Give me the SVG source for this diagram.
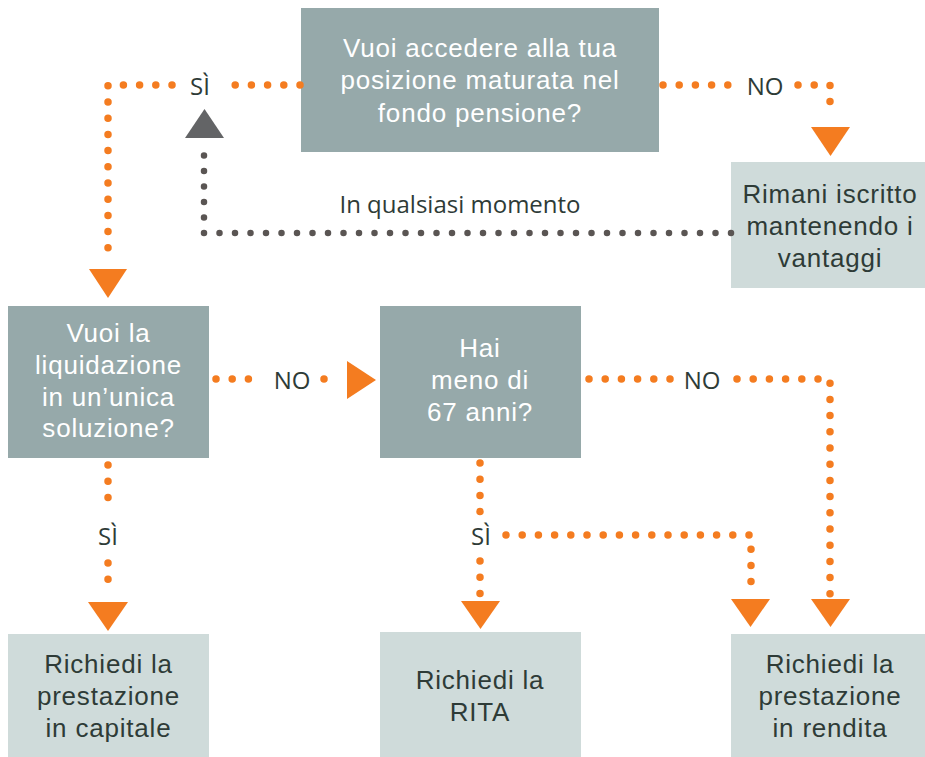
<svg xmlns="http://www.w3.org/2000/svg" width="925" height="757" viewBox="0 0 925 757">
<style>
.dark{fill:#96A9AA}
.light{fill:#CFDBDA}
.t{font-family:"Liberation Sans",Arial,sans-serif;font-size:26px;letter-spacing:0.8px;text-anchor:middle}
.tw{fill:#FFFFFF}
.td{fill:#2E3B37}
.lbl{font-family:"Open Sans","Noto Sans","Liberation Sans",sans-serif;font-size:24px;text-anchor:middle;fill:#2E3B37}
.od{fill:none;stroke:#F47C20;stroke-width:7.5;stroke-linecap:round;stroke-dasharray:0 16.2}
.gd{fill:none;stroke:#5A5553;stroke-width:6.5;stroke-linecap:round;stroke-dasharray:0 15.5}
.oa{fill:#F47C20}
.ga{fill:#636466}
</style>
<rect width="925" height="757" fill="#FFFFFF"/>
<g id="q1">
<rect class="dark" x="301" y="8" width="358" height="144"/>
<text class="t tw" x="480" y="57">Vuoi accedere alla tua</text>
<text class="t tw" x="480" y="89">posizione maturata nel</text>
<text class="t tw" x="480" y="122">fondo pensione?</text>
</g>
<g id="rimani">
<rect class="light" x="731" y="162" width="194" height="126"/>
<text class="t td" x="830" y="203">Rimani iscritto</text>
<text class="t td" x="830" y="235">mantenendo i</text>
<text class="t td" x="830" y="267">vantaggi</text>
</g>
<g id="q2">
<rect class="dark" x="8" y="306" width="201" height="152"/>
<text class="t tw" x="108.5" y="342">Vuoi la</text>
<text class="t tw" x="108.5" y="374">liquidazione</text>
<text class="t tw" x="108.5" y="406">in un’unica</text>
<text class="t tw" x="108.5" y="437">soluzione?</text>
</g>
<g id="q3">
<rect class="dark" x="380" y="306" width="201" height="152"/>
<text class="t tw" x="480" y="357">Hai</text>
<text class="t tw" x="480" y="389">meno di</text>
<text class="t tw" x="480" y="421">67 anni?</text>
</g>
<g id="capitale">
<rect class="light" x="8" y="634" width="201" height="123"/>
<text class="t td" x="108.5" y="673">Richiedi la</text>
<text class="t td" x="108.5" y="705">prestazione</text>
<text class="t td" x="108.5" y="737">in capitale</text>
</g>
<g id="rita">
<rect class="light" x="380" y="632" width="201" height="125"/>
<text class="t td" x="480" y="689">Richiedi la</text>
<text class="t td" x="480" y="721">RITA</text>
</g>
<g id="rendita">
<rect class="light" x="731" y="634" width="194" height="123"/>
<text class="t td" x="830" y="673">Richiedi la</text>
<text class="t td" x="830" y="705">prestazione</text>
<text class="t td" x="830" y="737">in rendita</text>
</g>
<g id="connectors">
<path class="od" d="M300 85 H228 M172 85 H108 V262"/>
<polygon class="oa" points="89,269 127,269 108,298"/>
<text class="lbl" x="200" y="95">SÌ</text>
<path class="od" d="M663 85 H728 M798 85 H830 V117"/>
<polygon class="oa" points="811,127 850,127 830.5,156"/>
<text class="lbl" x="765" y="95">NO</text>
<path class="gd" d="M731 233 H204 V145"/>
<polygon class="ga" points="185,138 224,138 204.5,109"/>
<text class="lbl" x="460" y="213">In qualsiasi momento</text>
<path class="od" d="M216 379 H264 M324 379 H340"/>
<polygon class="oa" points="347,361 347,399 376,380"/>
<text class="lbl" x="292" y="389">NO</text>
<path class="od" d="M589 379 H671 M737 379 H830 V594"/>
<polygon class="oa" points="811,599 850,599 830.5,627"/>
<text class="lbl" x="702" y="389">NO</text>
<path class="od" d="M108 465 V513 M108 563 V595"/>
<polygon class="oa" points="88,602 128,602 108,631"/>
<text class="lbl" x="108" y="545">SÌ</text>
<path class="od" d="M480 463 V512 M480 561 V594"/>
<polygon class="oa" points="461,601 500,601 480.5,629"/>
<text class="lbl" x="481" y="545">SÌ</text>
<path class="od" d="M506 535 H751 V588"/>
<polygon class="oa" points="731,599 770,599 750.5,627"/>
</g>
</svg>
